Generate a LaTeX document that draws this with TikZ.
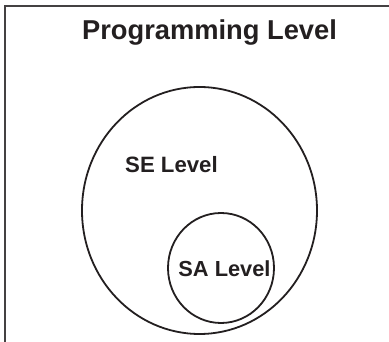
\documentclass[tikz,border=0pt]{standalone}
\usepackage{fontspec}
\setmainfont{Liberation Sans}
\definecolor{ink}{HTML}{231F20}
\begin{document}
\begin{tikzpicture}[x=1pt,y=1pt,
  lbl/.style={anchor=base,inner sep=0pt,text=ink,font=\bfseries},
  ring/.style={draw=ink,line width=1.8pt}]
\useasboundingbox (0,0) rectangle (389,342);
\fill[white] (0,0) rectangle (389,342);
\draw[ink!85,line width=2.2pt] (5,-20) -- (5,336) -- (400,336);
\draw[ring] (199.5,131.5) ellipse [x radius=117.5,y radius=123.5];
\draw[ring] (221,74) ellipse [x radius=53,y radius=55];
\node[lbl,font=\bfseries\fontsize{27.3}{30}\selectfont] (title) at (209.5,302) {Programming Level};
\node[lbl,font=\bfseries\fontsize{22.2}{26}\selectfont] (se) at (171.5,169) {SE Level};
\node[lbl,font=\bfseries\fontsize{21.8}{26}\selectfont] (sa) at (224.5,65) {SA Level};
\end{tikzpicture}
\end{document}
